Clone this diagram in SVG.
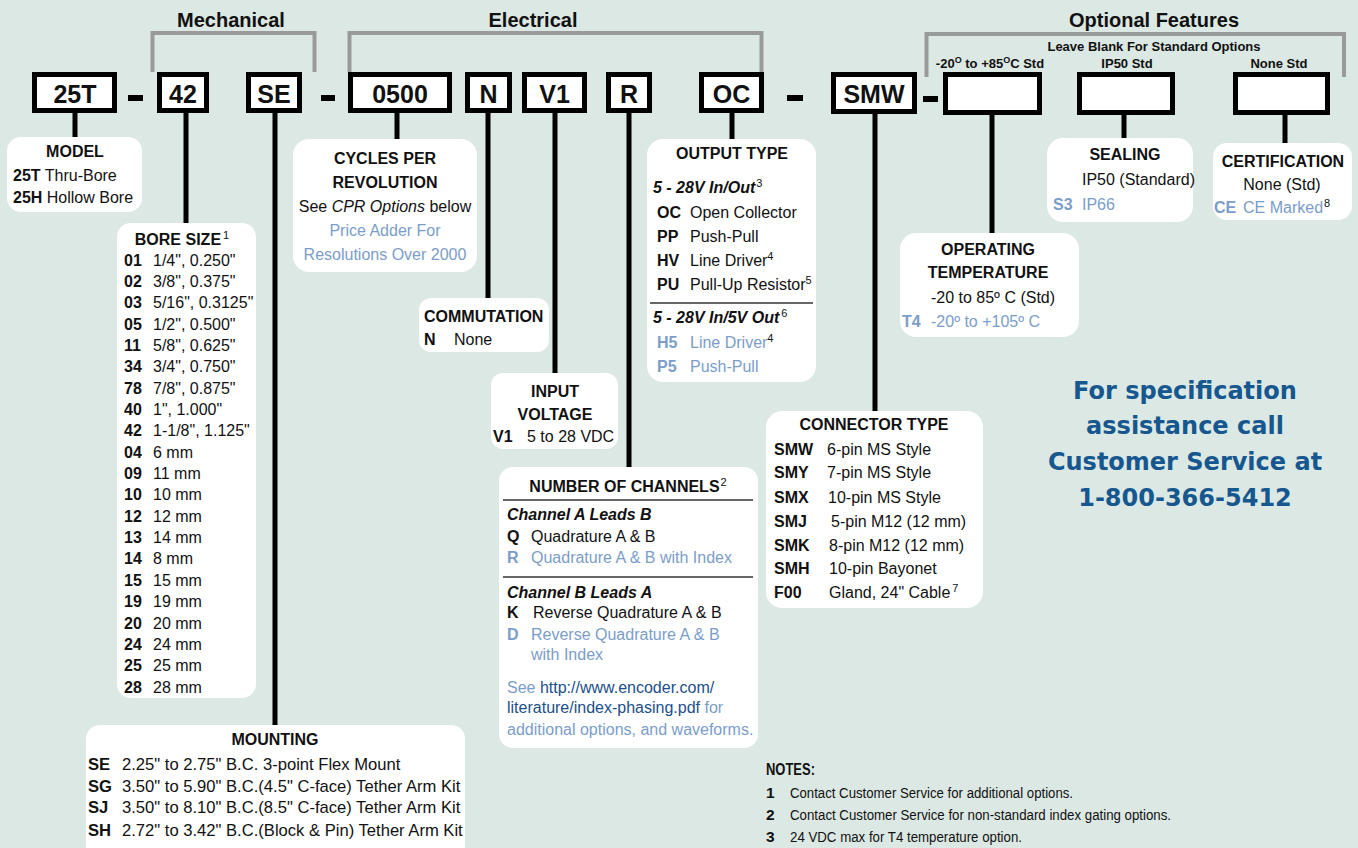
<svg xmlns="http://www.w3.org/2000/svg" width="1358" height="848" viewBox="0 0 1358 848">
<style>
text{font-family:"Liberation Sans",Arial,sans-serif;font-size:16px;fill:#111}
.b{font-weight:bold}
.i{font-style:italic}
.c{text-anchor:middle}
.bl{fill:#7b9dc9}
.lk{fill:#1c4f8a}
.sup{font-size:11px;font-weight:normal;font-style:normal}
.hd{font-size:20px;font-weight:bold}
.sm{font-size:13px;font-weight:bold}
.code{fill:#fff;stroke:#000;stroke-width:5}
.cl{font-size:25px;font-weight:bold;text-anchor:middle}
.card{fill:#fff}
.br{fill:none;stroke:#9a9a9a;stroke-width:4}
.cn{stroke:#000;stroke-width:5}
.rule{stroke:#333;stroke-width:1.5}
.dash{fill:#000}
.cs{font-family:"DejaVu Sans",Verdana,sans-serif;font-size:24px;font-weight:bold;fill:#15578e;text-anchor:middle}
.nt{font-size:15.5px}
.mt{font-size:16.6px}
</style>
<rect width="1358" height="848" fill="#dce8e3"/>

<g id="brackets">
<path class="br" d="M152.5,72 V33 H314.5 V72"/>
<path class="br" d="M349.5,72 V33 H761.5 V72"/>
<path class="br" d="M926.5,77 V34 H1344 V77"/>
<text class="hd c" x="231" y="27">Mechanical</text>
<text class="hd c" x="533" y="27">Electrical</text>
<text class="hd c" x="1154" y="27">Optional Features</text>
<text class="sm c" x="1154" y="51">Leave Blank For Standard Options</text>
<text class="sm c" x="990" y="68">-20<tspan font-size="9" dy="-5">O</tspan><tspan dy="5"> to +85</tspan><tspan font-size="9" dy="-5">O</tspan><tspan dy="5">C Std</tspan></text>
<text class="sm c" x="1127" y="68">IP50 Std</text>
<text class="sm c" x="1279" y="68">None Std</text>
</g>

<g id="dashes">
<rect class="dash" x="128" y="95" width="15" height="6"/>
<rect class="dash" x="321" y="95" width="14" height="6"/>
<rect class="dash" x="787" y="95" width="16" height="6"/>
<rect class="dash" x="923" y="96" width="15" height="6"/>
</g>

<g id="connectors">
<line class="cn" x1="75" y1="113" x2="75" y2="139"/>
<line class="cn" x1="186" y1="113" x2="186" y2="225"/>
<line class="cn" x1="275" y1="113" x2="275" y2="727"/>
<line class="cn" x1="397" y1="113" x2="397" y2="141"/>
<line class="cn" x1="488" y1="113" x2="488" y2="300"/>
<line class="cn" x1="555" y1="113" x2="555" y2="375"/>
<line class="cn" x1="629" y1="113" x2="629" y2="469"/>
<line class="cn" x1="732" y1="113" x2="732" y2="141"/>
<line class="cn" x1="875" y1="114" x2="875" y2="413"/>
<line class="cn" x1="992" y1="115" x2="992" y2="235"/>
<line class="cn" x1="1124" y1="115" x2="1124" y2="140"/>
<line class="cn" x1="1285" y1="115" x2="1285" y2="145"/>
</g>

<g id="code-25T"><rect class="code" x="34.5" y="74.5" width="80" height="36"/><text class="cl" x="75" y="103">25T</text></g>
<g id="code-42"><rect class="code" x="159.5" y="74.5" width="47" height="36"/><text class="cl" x="183" y="103">42</text></g>
<g id="code-SE"><rect class="code" x="248.5" y="74.5" width="51" height="36"/><text class="cl" x="274" y="103">SE</text></g>
<g id="code-0500"><rect class="code" x="350.5" y="74.5" width="99" height="36"/><text class="cl" x="400" y="103">0500</text></g>
<g id="code-N"><rect class="code" x="467.5" y="74.5" width="42" height="36"/><text class="cl" x="488.5" y="103">N</text></g>
<g id="code-V1"><rect class="code" x="524.5" y="74.5" width="60" height="36"/><text class="cl" x="554.5" y="103">V1</text></g>
<g id="code-R"><rect class="code" x="608.5" y="74.5" width="41" height="36"/><text class="cl" x="629" y="103">R</text></g>
<g id="code-OC"><rect class="code" x="701.5" y="74.5" width="60" height="36"/><text class="cl" x="731.5" y="103">OC</text></g>
<g id="code-SMW"><rect class="code" x="833.5" y="74.5" width="81" height="37"/><text class="cl" x="874" y="103">SMW</text></g>
<g id="code-temp"><rect class="code" x="945.5" y="74.5" width="94" height="38"/></g>
<g id="code-seal"><rect class="code" x="1079.5" y="74.5" width="93" height="38"/></g>
<g id="code-cert"><rect class="code" x="1235.5" y="74.5" width="92" height="38"/></g>

<g id="model">
<rect class="card" x="7" y="137" width="135" height="75" rx="14"/>
<text class="b c" x="75" y="157">MODEL</text>
<text x="13" y="181"><tspan class="b">25T</tspan> Thru-Bore</text>
<text x="13" y="203"><tspan class="b">25H</tspan> Hollow Bore</text>
</g>

<g id="bore-size">
<rect class="card" x="117" y="223" width="139" height="475" rx="14"/>
<text class="b c" x="182" y="245">BORE SIZE<tspan class="sup" dx="2" dy="-6">1</tspan></text>
<g>
<text class="b" x="124" y="266">01</text><text class="b" x="124" y="287">02</text><text class="b" x="124" y="308">03</text><text class="b" x="124" y="330">05</text><text class="b" x="124" y="351">11</text><text class="b" x="124" y="372">34</text><text class="b" x="124" y="394">78</text><text class="b" x="124" y="415">40</text><text class="b" x="124" y="436">42</text><text class="b" x="124" y="458">04</text><text class="b" x="124" y="479">09</text><text class="b" x="124" y="500">10</text><text class="b" x="124" y="522">12</text><text class="b" x="124" y="543">13</text><text class="b" x="124" y="564">14</text><text class="b" x="124" y="586">15</text><text class="b" x="124" y="607">19</text><text class="b" x="124" y="629">20</text><text class="b" x="124" y="650">24</text><text class="b" x="124" y="671">25</text><text class="b" x="124" y="693">28</text>
</g>
<text x="153" y="266">1/4", 0.250"</text><text x="153" y="287">3/8", 0.375"</text><text x="153" y="308">5/16", 0.3125"</text><text x="153" y="330">1/2", 0.500"</text><text x="153" y="351">5/8", 0.625"</text><text x="153" y="372">3/4", 0.750"</text><text x="153" y="394">7/8", 0.875"</text><text x="153" y="415">1", 1.000"</text><text x="153" y="436">1-1/8", 1.125"</text><text x="153" y="458">6 mm</text><text x="153" y="479">11 mm</text><text x="153" y="500">10 mm</text><text x="153" y="522">12 mm</text><text x="153" y="543">14 mm</text><text x="153" y="564">8 mm</text><text x="153" y="586">15 mm</text><text x="153" y="607">19 mm</text><text x="153" y="629">20 mm</text><text x="153" y="650">24 mm</text><text x="153" y="671">25 mm</text><text x="153" y="693">28 mm</text>
</g>

<g id="mounting">
<rect class="card" x="86" y="725" width="379" height="140" rx="14"/>
<text class="b c" x="275" y="745">MOUNTING</text>
<text class="mt b" x="88" y="770">SE</text><text class="mt" x="122" y="770">2.25" to 2.75" B.C. 3-point Flex Mount</text>
<text class="mt b" x="88" y="792">SG</text><text class="mt" x="122" y="792">3.50" to 5.90" B.C.(4.5" C-face) Tether Arm Kit</text>
<text class="mt b" x="88" y="813">SJ</text><text class="mt" x="122" y="813">3.50" to 8.10" B.C.(8.5" C-face) Tether Arm Kit</text>
<text class="mt b" x="88" y="836">SH</text><text class="mt" x="122" y="836">2.72" to 3.42" B.C.(Block &amp; Pin) Tether Arm Kit</text>
</g>

<g id="cpr">
<rect class="card" x="293" y="139" width="184" height="133" rx="16"/>
<text class="b c" x="385" y="164">CYCLES PER</text>
<text class="b c" x="385" y="188">REVOLUTION</text>
<text class="c" x="385" y="212">See <tspan class="i">CPR Options</tspan> below</text>
<text class="c bl" x="385" y="236">Price Adder For</text>
<text class="c bl" x="385" y="260">Resolutions Over 2000</text>
</g>

<g id="commutation">
<rect class="card" x="419" y="298" width="130" height="54" rx="12"/>
<text class="b" x="424" y="322">COMMUTATION</text>
<text class="b" x="424" y="345">N</text><text x="454" y="345">None</text>
</g>

<g id="input-voltage">
<rect class="card" x="491" y="373" width="127" height="76" rx="12"/>
<text class="b c" x="555" y="397">INPUT</text>
<text class="b c" x="555" y="420">VOLTAGE</text>
<text class="b" x="493" y="442">V1</text><text x="527" y="442">5 to 28 VDC</text>
</g>

<g id="channels">
<rect class="card" x="499" y="467" width="259" height="281" rx="14"/>
<text class="b c" x="628" y="492">NUMBER OF CHANNELS<tspan class="sup" dx="1" dy="-6">2</tspan></text>
<line class="rule" x1="503" y1="500" x2="753" y2="500"/>
<text class="b i" x="507" y="520">Channel A Leads B</text>
<text class="b" x="507" y="542">Q</text><text x="531" y="542">Quadrature A &amp; B</text>
<text class="b bl" x="507" y="563">R</text><text class="bl" x="531" y="563">Quadrature A &amp; B with Index</text>
<line class="rule" x1="503" y1="577" x2="753" y2="577"/>
<text class="b i" x="507" y="598">Channel B Leads A</text>
<text class="b" x="507" y="618">K</text><text x="533" y="618">Reverse Quadrature A &amp; B</text>
<text class="b bl" x="507" y="640">D</text><text class="bl" x="531" y="640">Reverse Quadrature A &amp; B</text>
<text class="bl" x="531" y="660">with Index</text>
<text class="bl" x="507" y="693">See <tspan class="lk">http://www.encoder.com/</tspan></text>
<text class="lk" x="507" y="713">literature/index-phasing.pdf<tspan class="bl"> for</tspan></text>
<text class="bl" x="507" y="735">additional options, and waveforms.</text>
</g>

<g id="output-type">
<rect class="card" x="647" y="139" width="169" height="243" rx="16"/>
<text class="b c" x="732" y="159">OUTPUT TYPE</text>
<text class="b i" x="653" y="193">5 - 28V In/Out<tspan class="sup" font-style="italic" dx="1" dy="-6">3</tspan></text>
<text class="b" x="657" y="218">OC</text><text x="690" y="218">Open Collector</text>
<text class="b" x="657" y="242">PP</text><text x="690" y="242">Push-Pull</text>
<text class="b" x="657" y="266">HV</text><text x="690" y="266">Line Driver<tspan class="sup" dy="-6">4</tspan></text>
<text class="b" x="657" y="290">PU</text><text x="690" y="290">Pull-Up Resistor<tspan class="sup" dy="-6">5</tspan></text>
<line class="rule" x1="650" y1="303" x2="813" y2="303"/>
<text class="b i" x="653" y="323">5 - 28V In/5V Out<tspan class="sup" font-style="italic" dx="2" dy="-6">6</tspan></text>
<text class="b bl" x="657" y="348">H5</text><text class="bl" x="690" y="348">Line Driver<tspan class="sup" fill="#111" dy="-6">4</tspan></text>
<text class="b bl" x="657" y="372">P5</text><text class="bl" x="690" y="372">Push-Pull</text>
</g>

<g id="operating-temperature">
<rect class="card" x="900" y="233" width="179" height="104" rx="16"/>
<text class="b c" x="988" y="255">OPERATING</text>
<text class="b c" x="988" y="278">TEMPERATURE</text>
<text class="c" x="993" y="303">-20 to 85º C (Std)</text>
<text class="b bl" x="902" y="327">T4</text><text class="bl" x="931" y="327">-20º to +105º C</text>
</g>

<g id="sealing">
<rect class="card" x="1047" y="138" width="146" height="84" rx="16"/>
<text class="b c" x="1125" y="160">SEALING</text>
<text x="1082" y="185">IP50 (Standard)</text>
<text class="b bl" x="1053" y="210">S3</text><text class="bl" x="1082" y="210">IP66</text>
</g>

<g id="certification">
<rect class="card" x="1213" y="143" width="139" height="77" rx="14"/>
<text class="b c" x="1283" y="167">CERTIFICATION</text>
<text class="c" x="1282" y="190">None (Std)</text>
<text class="b bl" x="1214" y="213">CE</text><text class="bl" x="1243" y="213">CE Marked<tspan class="sup" fill="#111" dx="1" dy="-6">8</tspan></text>
</g>

<g id="connector-type">
<rect class="card" x="766" y="411" width="217" height="197" rx="16"/>
<text class="b c" x="874" y="430">CONNECTOR TYPE</text>
<text class="b" x="774" y="455">SMW</text><text x="827" y="455">6-pin MS Style</text>
<text class="b" x="774" y="478">SMY</text><text x="827" y="478">7-pin MS Style</text>
<text class="b" x="774" y="503">SMX</text><text x="828" y="503">10-pin MS Style</text>
<text class="b" x="774" y="527">SMJ</text><text x="831" y="527">5-pin M12  (12 mm)</text>
<text class="b" x="774" y="551">SMK</text><text x="829" y="551">8-pin M12  (12 mm)</text>
<text class="b" x="774" y="574">SMH</text><text x="829" y="574">10-pin Bayonet</text>
<text class="b" x="774" y="598">F00</text><text x="829" y="598">Gland, 24" Cable<tspan class="sup" dx="2" dy="-6">7</tspan></text>
</g>

<g id="customer-service">
<text class="cs" x="1185" y="399">For specification</text>
<text class="cs" x="1185" y="434">assistance call</text>
<text class="cs" x="1185" y="470">Customer Service at</text>
<text class="cs" x="1185" y="506">1-800-366-5412</text>
</g>

<g id="notes">
<text class="b" x="766" y="775" font-size="16" textLength="49" lengthAdjust="spacingAndGlyphs">NOTES:</text>
<text class="b nt" x="766" y="798">1</text><text class="nt" x="790" y="798" textLength="283" lengthAdjust="spacingAndGlyphs">Contact Customer Service for additional options.</text>
<text class="b nt" x="766" y="820">2</text><text class="nt" x="790" y="820" textLength="381" lengthAdjust="spacingAndGlyphs">Contact Customer Service for non-standard index gating options.</text>
<text class="b nt" x="766" y="842">3</text><text class="nt" x="790" y="842" textLength="232" lengthAdjust="spacingAndGlyphs">24 VDC max for T4 temperature option.</text>
</g>
</svg>
